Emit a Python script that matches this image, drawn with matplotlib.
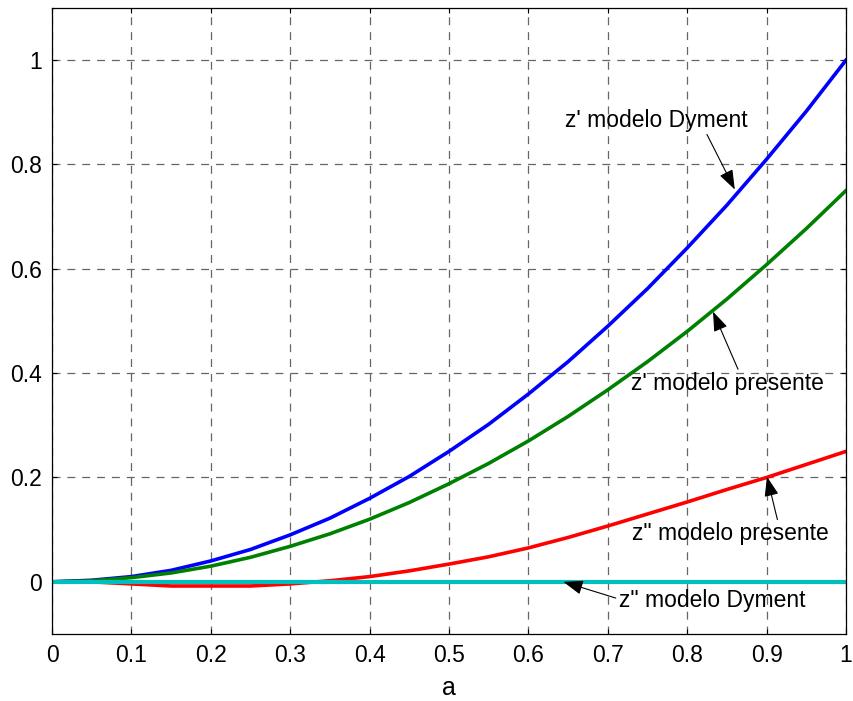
import numpy as np
import matplotlib.pyplot as plt

plt.rcParams['font.family'] = ['Liberation Sans', 'DejaVu Sans']
plt.rcParams['lines.scale_dashes'] = False

# parametro a
a = [0.0, 0.05, 0.1, 0.15, 0.2, 0.25, 0.3, 0.35, 0.4, 0.45, 0.5,
     0.55, 0.6, 0.65, 0.7, 0.75, 0.8, 0.85, 0.9, 0.95, 1.0]

# z' modelo Dyment
zp_dyment = [0.0, 0.003, 0.01, 0.022, 0.04, 0.062, 0.09, 0.122, 0.16, 0.202, 0.25,
             0.302, 0.36, 0.422, 0.49, 0.562, 0.64, 0.722, 0.81, 0.902, 1.0]
# z' modelo presente
zp_presente = [0.0, 0.002, 0.008, 0.017, 0.03, 0.047, 0.068, 0.092, 0.12, 0.152, 0.188,
               0.227, 0.27, 0.317, 0.368, 0.422, 0.48, 0.542, 0.608, 0.677, 0.75]
# z'' modelo presente
zpp_presente = [0.0, 0.0, -0.004, -0.008, -0.008, -0.008, -0.004, 0.002, 0.01, 0.021, 0.034,
                0.048, 0.065, 0.085, 0.107, 0.13, 0.153, 0.177, 0.2, 0.225, 0.25]
# z'' modelo Dyment
zpp_dyment = [0.0] * len(a)

fig = plt.figure(figsize=(8.54, 7.01), dpi=100)
ax = fig.add_axes([0.0609, 0.0956, 0.9297, 0.893])

ax.plot(a, zp_dyment, color=(0, 0, 1), lw=2.6)
ax.plot(a, zp_presente, color=(0, 0.5, 0), lw=2.6)
ax.plot(a, zpp_presente, color=(1, 0, 0), lw=2.6)
ax.plot(a, zpp_dyment, color=(0, 0.75, 0.75), lw=3.0)

ax.set_xlim(0, 1)
ax.set_ylim(-0.1, 1.1)
ax.set_xticks(np.arange(0, 1.01, 0.1))
ax.set_xticklabels(['0', '0.1', '0.2', '0.3', '0.4', '0.5', '0.6', '0.7', '0.8', '0.9', '1'])
ax.set_yticks([0, 0.2, 0.4, 0.6, 0.8, 1])
ax.set_yticklabels(['0', '0.2', '0.4', '0.6', '0.8', '1'])
ax.tick_params(direction='in', length=3.6, width=0.8, labelsize=16.5, pad=7,
               top=True, right=True)
ax.grid(True, color='0.4', lw=0.9, linestyle=(0, (5.7, 5.0)))
for s in ax.spines.values():
    s.set_linewidth(0.9)
ax.set_xlabel('a', fontsize=18, labelpad=7)

arrow = dict(arrowstyle='-|>,head_length=0.55,head_width=0.2', color='k', lw=0.8,
             mutation_scale=22, shrinkA=0, shrinkB=0)
txt = dict(fontsize=16.5, ha='center', va='center')
ax.annotate("z' modelo Dyment", xy=(0.86, 0.752), xytext=(0.761, 0.885),
            arrowprops=dict(arrow, relpos=(0.77, 0.0)), **txt)
ax.annotate("z' modelo presente", xy=(0.8325, 0.518), xytext=(0.851, 0.38),
            arrowprops=dict(arrow, relpos=(0.56, 1.0)), **txt)
ax.annotate('z" modelo presente', xy=(0.9005, 0.2015), xytext=(0.855, 0.092),
            arrowprops=dict(arrow, relpos=(0.74, 1.0)), **txt)
ax.annotate('z" modelo Dyment', xy=(0.644, 0.0), xytext=(0.831, -0.035),
            arrowprops=dict(arrow, relpos=(0.0, 0.55)), **txt)

fig.savefig('out.png', dpi=100)
